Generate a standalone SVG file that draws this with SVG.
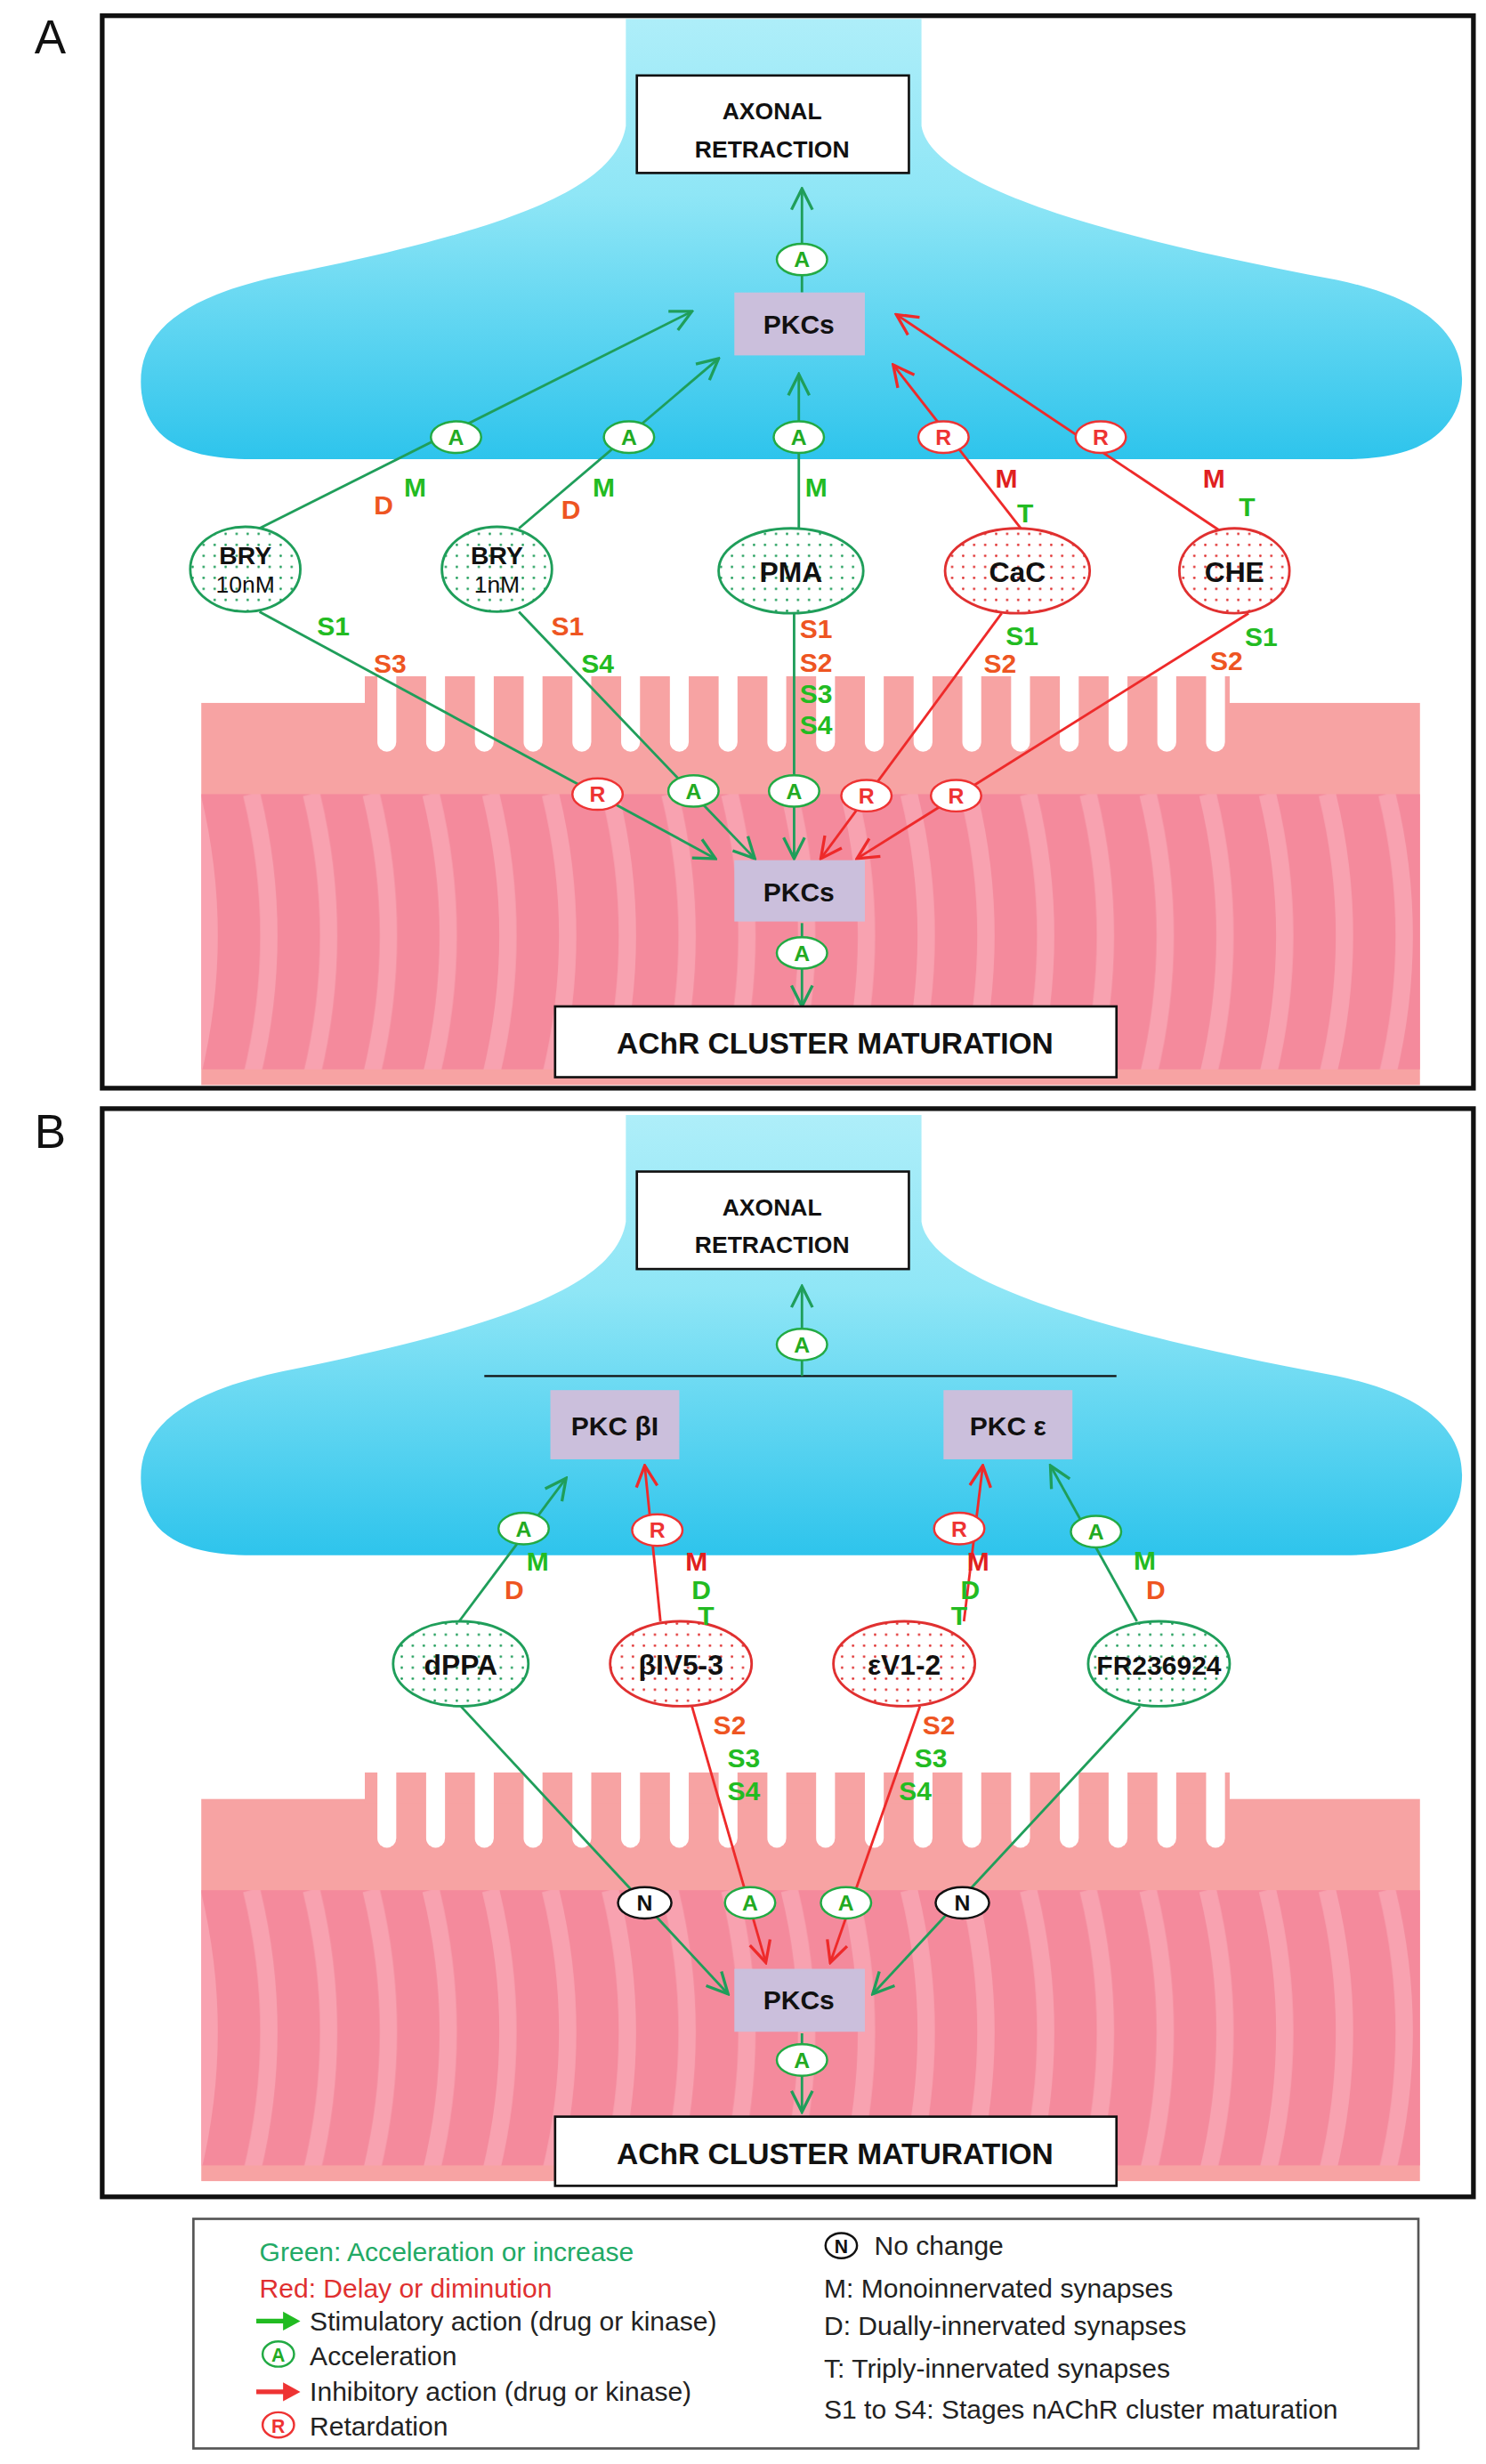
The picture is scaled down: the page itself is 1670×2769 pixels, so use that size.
<svg xmlns="http://www.w3.org/2000/svg" width="1670" height="2769" viewBox="0 0 1670 2769">
<style>
text{font-family:"Liberation Sans",Arial,sans-serif}
.b{font-weight:bold;fill:#111;text-anchor:middle}
.lg{font-weight:bold;fill:#22bb22;font-size:17px;text-anchor:middle}
.lo{font-weight:bold;fill:#ee5522;font-size:17px;text-anchor:middle}
.lr{font-weight:bold;fill:#e02020;font-size:17px;text-anchor:middle}
.cg{stroke:#1f9e5a;stroke-width:1.6;fill:none;marker-end:url(#ag)}
.cr{stroke:#ee2a2a;stroke-width:1.6;fill:none;marker-end:url(#ar)}
.box{fill:#fff;stroke:#111;stroke-width:1.5}
.pkc{fill:#cbbfdc}
.og{fill:url(#dg);stroke:#1f9e5a;stroke-width:1.6}
.or{fill:url(#dr);stroke:#e03030;stroke-width:1.6}
.bg{fill:#fff;stroke:#22aa44;stroke-width:1.4}
.br{fill:#fff;stroke:#ee3333;stroke-width:1.4}
.bn{fill:#fff;stroke:#111;stroke-width:1.4}
.tg{fill:#22aa22;font-size:14px;font-weight:bold;text-anchor:middle}
.tr{fill:#ee3333;font-size:14px;font-weight:bold;text-anchor:middle}
.tn{fill:#111;font-size:14px;font-weight:bold;text-anchor:middle}
.leg{font-size:17px;fill:#222}
</style>
<defs>
<marker id="ag" markerUnits="userSpaceOnUse" markerWidth="16" markerHeight="16" viewBox="0 0 12 12" refX="11" refY="6" orient="auto"><path d="M1,1 L11,6 L1,11" fill="none" stroke="#1f9e5a" stroke-width="1.4"/></marker>
<marker id="ar" markerUnits="userSpaceOnUse" markerWidth="16" markerHeight="16" viewBox="0 0 12 12" refX="11" refY="6" orient="auto"><path d="M1,1 L11,6 L1,11" fill="none" stroke="#ee2a2a" stroke-width="1.4"/></marker>
<pattern id="dg" patternUnits="userSpaceOnUse" width="7" height="7"><rect width="7" height="7" fill="#fff"/><circle cx="3.5" cy="3.5" r="0.8" fill="#1f9e5a"/></pattern>
<pattern id="dr" patternUnits="userSpaceOnUse" width="7" height="7"><rect width="7" height="7" fill="#fff"/><circle cx="3.5" cy="3.5" r="0.8" fill="#e03030"/></pattern>
<linearGradient id="cy" x1="0" y1="0" x2="0" y2="1"><stop offset="0" stop-color="#aeeef9"/><stop offset="0.4" stop-color="#8fe6f6"/><stop offset="1" stop-color="#2ec4ec"/></linearGradient>
<pattern id="st" patternUnits="userSpaceOnUse" x="0" y="505" width="38" height="180"><rect width="38" height="180" fill="#f48a9c"/><path d="M8,0 Q30,90 8,180" stroke="#f8a2b0" stroke-width="11" fill="none"/></pattern>
<g id="bgd">
<path d="M398,12 L586,12 L586,80 C592,118 700,150 850,178 C918,192 936,222 928,255 C918,286 885,292 855,292 L160,292 C118,292 94,280 90,250 C86,215 110,190 180,175 C330,145 392,118 398,80 Z" fill="url(#cy)"/>
<rect x="128" y="447" width="775" height="243" fill="#f7a3a3"/>
<rect x="232" y="430" width="550" height="20" fill="#f7a3a3"/>
<rect x="128" y="505" width="775" height="175" fill="url(#st)"/>
<g fill="#fff">
<rect x="240" y="418" width="12" height="60" rx="6"/><rect x="271" y="418" width="12" height="60" rx="6"/><rect x="302" y="418" width="12" height="60" rx="6"/><rect x="333" y="418" width="12" height="60" rx="6"/><rect x="364" y="418" width="12" height="60" rx="6"/><rect x="395" y="418" width="12" height="60" rx="6"/><rect x="426" y="418" width="12" height="60" rx="6"/><rect x="457" y="418" width="12" height="60" rx="6"/><rect x="488" y="418" width="12" height="60" rx="6"/><rect x="519" y="418" width="12" height="60" rx="6"/><rect x="550" y="418" width="12" height="60" rx="6"/><rect x="581" y="418" width="12" height="60" rx="6"/><rect x="612" y="418" width="12" height="60" rx="6"/><rect x="643" y="418" width="12" height="60" rx="6"/><rect x="674" y="418" width="12" height="60" rx="6"/><rect x="705" y="418" width="12" height="60" rx="6"/><rect x="736" y="418" width="12" height="60" rx="6"/><rect x="767" y="418" width="12" height="60" rx="6"/>
<rect x="230" y="418" width="554" height="12"/>
</g>
</g>
</defs>
<g transform="scale(1.7672)">
<!-- Panel A -->
<g id="panelA-bg"><use href="#bgd"/></g>
<rect x="65" y="10" width="872" height="682" fill="none" stroke="#111" stroke-width="3"/>
<text x="22" y="34" style="font-size:30px;fill:#111">A</text>
<g id="connectorsA">
<path class="cg" d="M510,186 L510,120"/>
<path class="cg" d="M165,336 L440,198"/>
<path class="cg" d="M330,336 L457,228"/>
<path class="cg" d="M508,337 L508,238"/>
<path class="cr" d="M650,337 L568,232"/>
<path class="cr" d="M775,337 L570,200"/>
<path class="cg" d="M165,389 L455,546"/>
<path class="cg" d="M330,389 L480,546"/>
<path class="cg" d="M505,390 L505,546"/>
<path class="cr" d="M637,390 L522,546"/>
<path class="cr" d="M794,390 L545,546"/>
<path class="cg" d="M510,587 L510,640"/>
</g>
<g id="axonA"><rect class="box" x="405" y="48" width="173" height="62"/><text class="b" x="491" y="76" font-size="15">AXONAL</text><text class="b" x="491" y="100" font-size="15">RETRACTION</text></g>
<g id="pkcA1"><rect class="pkc" x="467" y="186" width="83" height="40"/><text class="b" x="508" y="212" font-size="17">PKCs</text></g>
<g id="pkcA2"><rect class="pkc" x="467" y="547" width="83" height="39"/><text class="b" x="508" y="573" font-size="17">PKCs</text></g>
<g id="achrA"><rect class="box" x="353" y="640" width="357" height="45"/><text class="b" x="531" y="670" font-size="19">AChR CLUSTER MATURATION</text></g>
<g id="bry10"><ellipse class="og" cx="156" cy="362" rx="35" ry="27"/><text class="b" x="156" y="359" font-size="16">BRY</text><text x="156" y="377" font-size="15" text-anchor="middle" fill="#111">10nM</text></g>
<g id="bry1"><ellipse class="og" cx="316" cy="362" rx="35" ry="27"/><text class="b" x="316" y="359" font-size="16">BRY</text><text x="316" y="377" font-size="15" text-anchor="middle" fill="#111">1nM</text></g>
<g id="pma"><ellipse class="og" cx="503" cy="363" rx="46" ry="27"/><text class="b" x="503" y="370" font-size="18">PMA</text></g>
<g id="cac"><ellipse class="or" cx="647" cy="363" rx="46" ry="27"/><text class="b" x="647" y="370" font-size="18">CaC</text></g>
<g id="che"><ellipse class="or" cx="785" cy="363" rx="35" ry="27"/><text class="b" x="785" y="370" font-size="18">CHE</text></g>
<g id="badgesA">
<ellipse class="bg" cx="510" cy="165" rx="16" ry="10"/><text class="tg" x="510" y="170">A</text>
<ellipse class="bg" cx="290" cy="278" rx="16" ry="10"/><text class="tg" x="290" y="283">A</text>
<ellipse class="bg" cx="400" cy="278" rx="16" ry="10"/><text class="tg" x="400" y="283">A</text>
<ellipse class="bg" cx="508" cy="278" rx="16" ry="10"/><text class="tg" x="508" y="283">A</text>
<ellipse class="br" cx="600" cy="278" rx="16" ry="10"/><text class="tr" x="600" y="283">R</text>
<ellipse class="br" cx="700" cy="278" rx="16" ry="10"/><text class="tr" x="700" y="283">R</text>
<ellipse class="br" cx="380" cy="505" rx="16" ry="10"/><text class="tr" x="380" y="510">R</text>
<ellipse class="bg" cx="441" cy="503" rx="16" ry="10"/><text class="tg" x="441" y="508">A</text>
<ellipse class="bg" cx="505" cy="503" rx="16" ry="10"/><text class="tg" x="505" y="508">A</text>
<ellipse class="br" cx="551" cy="506" rx="16" ry="10"/><text class="tr" x="551" y="511">R</text>
<ellipse class="br" cx="608" cy="506" rx="16" ry="10"/><text class="tr" x="608" y="511">R</text>
<ellipse class="bg" cx="510" cy="606" rx="16" ry="10"/><text class="tg" x="510" y="611">A</text>
</g>
<g id="labelsA">
<text class="lo" x="244" y="327">D</text><text class="lg" x="264" y="316">M</text>
<text class="lo" x="363" y="330">D</text><text class="lg" x="384" y="316">M</text>
<text class="lg" x="519" y="316">M</text>
<text class="lr" x="640" y="310">M</text><text class="lg" x="652" y="332">T</text>
<text class="lr" x="772" y="310">M</text><text class="lg" x="793" y="328">T</text>
<text class="lg" x="212" y="404">S1</text><text class="lo" x="248" y="428">S3</text>
<text class="lo" x="361" y="404">S1</text><text class="lg" x="380" y="428">S4</text>
<text class="lo" x="519" y="406">S1</text><text class="lo" x="519" y="427">S2</text><text class="lg" x="519" y="447">S3</text><text class="lg" x="519" y="467">S4</text>
<text class="lg" x="650" y="410">S1</text><text class="lo" x="636" y="428">S2</text>
<text class="lg" x="802" y="411">S1</text><text class="lo" x="780" y="426">S2</text>
</g>
<!-- Panel B -->
<g id="panelB-bg" transform="translate(0,697)"><use href="#bgd"/></g>
<rect x="65" y="705" width="872" height="692" fill="none" stroke="#111" stroke-width="3"/>
<text x="22" y="730" style="font-size:30px;fill:#111">B</text>
<g id="connectorsB">
<path d="M308,875 L710,875" stroke="#111" stroke-width="1.3"/>
<path class="cg" d="M510,875 L510,818"/>
<path class="cg" d="M292,1031 L360,940"/>
<path class="cr" d="M420,1031 L410,932"/>
<path class="cr" d="M613,1031 L625,932"/>
<path class="cg" d="M723,1031 L668,932"/>
<path class="cg" d="M293,1085 L463,1268"/>
<path class="cr" d="M440,1085 L487,1248"/>
<path class="cr" d="M585,1085 L528,1248"/>
<path class="cg" d="M725,1085 L555,1268"/>
<path class="cg" d="M510,1293 L510,1343"/>
</g>
<g id="axonB"><rect class="box" x="405" y="745" width="173" height="62"/><text class="b" x="491" y="773" font-size="15">AXONAL</text><text class="b" x="491" y="797" font-size="15">RETRACTION</text></g>
<g id="pkcbI"><rect class="pkc" x="350" y="884" width="82" height="44"/><text class="b" x="391" y="913" font-size="17">PKC βI</text></g>
<g id="pkceps"><rect class="pkc" x="600" y="884" width="82" height="44"/><text class="b" x="641" y="913" font-size="17">PKC ε</text></g>
<g id="pkcB"><rect class="pkc" x="467" y="1252" width="83" height="40"/><text class="b" x="508" y="1278" font-size="17">PKCs</text></g>
<g id="achrB"><rect class="box" x="353" y="1346" width="357" height="44"/><text class="b" x="531" y="1376" font-size="19">AChR CLUSTER MATURATION</text></g>
<g id="dppa"><ellipse class="og" cx="293" cy="1058" rx="43" ry="27"/><text class="b" x="293" y="1065" font-size="18">dPPA</text></g>
<g id="biv"><ellipse class="or" cx="433" cy="1058" rx="45" ry="27"/><text class="b" x="433" y="1065" font-size="18">βIV5-3</text></g>
<g id="ev"><ellipse class="or" cx="575" cy="1058" rx="45" ry="27"/><text class="b" x="575" y="1065" font-size="18">εV1-2</text></g>
<g id="fr"><ellipse class="og" cx="737" cy="1058" rx="45" ry="27"/><text class="b" x="737" y="1065" font-size="17">FR236924</text></g>
<g id="badgesB">
<ellipse class="bg" cx="510" cy="855" rx="16" ry="10"/><text class="tg" x="510" y="860">A</text>
<ellipse class="bg" cx="333" cy="972" rx="16" ry="10"/><text class="tg" x="333" y="977">A</text>
<ellipse class="br" cx="418" cy="973" rx="16" ry="10"/><text class="tr" x="418" y="978">R</text>
<ellipse class="br" cx="610" cy="972" rx="16" ry="10"/><text class="tr" x="610" y="977">R</text>
<ellipse class="bg" cx="697" cy="974" rx="16" ry="10"/><text class="tg" x="697" y="979">A</text>
<ellipse class="bn" cx="410" cy="1210" rx="17" ry="10"/><text class="tn" x="410" y="1215">N</text>
<ellipse class="bg" cx="477" cy="1210" rx="16" ry="10"/><text class="tg" x="477" y="1215">A</text>
<ellipse class="bg" cx="538" cy="1210" rx="16" ry="10"/><text class="tg" x="538" y="1215">A</text>
<ellipse class="bn" cx="612" cy="1210" rx="17" ry="10"/><text class="tn" x="612" y="1215">N</text>
<ellipse class="bg" cx="510" cy="1310" rx="16" ry="10"/><text class="tg" x="510" y="1315">A</text>
</g>
<g id="labelsB">
<text class="lg" x="342" y="999">M</text><text class="lo" x="327" y="1017">D</text>
<text class="lr" x="443" y="999">M</text><text class="lg" x="446" y="1017">D</text><text class="lg" x="449" y="1033">T</text>
<text class="lr" x="622" y="999">M</text><text class="lg" x="617" y="1017">D</text><text class="lg" x="610" y="1033">T</text>
<text class="lg" x="728" y="998">M</text><text class="lo" x="735" y="1017">D</text>
<text class="lo" x="464" y="1103">S2</text><text class="lg" x="473" y="1124">S3</text><text class="lg" x="473" y="1145">S4</text>
<text class="lo" x="597" y="1103">S2</text><text class="lg" x="592" y="1124">S3</text><text class="lg" x="582" y="1145">S4</text>
</g>
<!-- Legend -->
<g id="legend">
<rect x="123" y="1411" width="779" height="146" fill="#fff" stroke="#555" stroke-width="1.5"/>
<text class="leg" x="165" y="1438" style="fill:#22aa66">Green: Acceleration or increase</text>
<text class="leg" x="165" y="1461" style="fill:#e03030">Red: Delay or diminution</text>
<path d="M163,1476 L182,1476" stroke="#22bb22" stroke-width="3"/><path d="M180,1470 L191,1476 L180,1482 Z" fill="#22bb22"/>
<text class="leg" x="197" y="1482">Stimulatory action (drug or kinase)</text>
<ellipse class="bg" cx="177" cy="1497" rx="10" ry="8"/><text class="tg" x="177" y="1502" style="font-size:12px">A</text>
<text class="leg" x="197" y="1504">Acceleration</text>
<path d="M163,1521 L182,1521" stroke="#ee3333" stroke-width="3"/><path d="M180,1515 L191,1521 L180,1527 Z" fill="#ee3333"/>
<text class="leg" x="197" y="1527">Inhibitory action (drug or kinase)</text>
<ellipse class="br" cx="177" cy="1542" rx="10" ry="8"/><text class="tr" x="177" y="1547" style="font-size:12px">R</text>
<text class="leg" x="197" y="1549">Retardation</text>
<ellipse class="bn" cx="535" cy="1428" rx="10" ry="8"/><text class="tn" x="535" y="1433" style="font-size:12px">N</text>
<text class="leg" x="556" y="1434">No change</text>
<text class="leg" x="524" y="1461">M: Monoinnervated synapses</text>
<text class="leg" x="524" y="1485">D:  Dually-innervated synapses</text>
<text class="leg" x="524" y="1512">T:  Triply-innervated synapses</text>
<text class="leg" x="524" y="1538">S1 to S4: Stages nAChR cluster maturation</text>
</g>
</g>
</svg>
